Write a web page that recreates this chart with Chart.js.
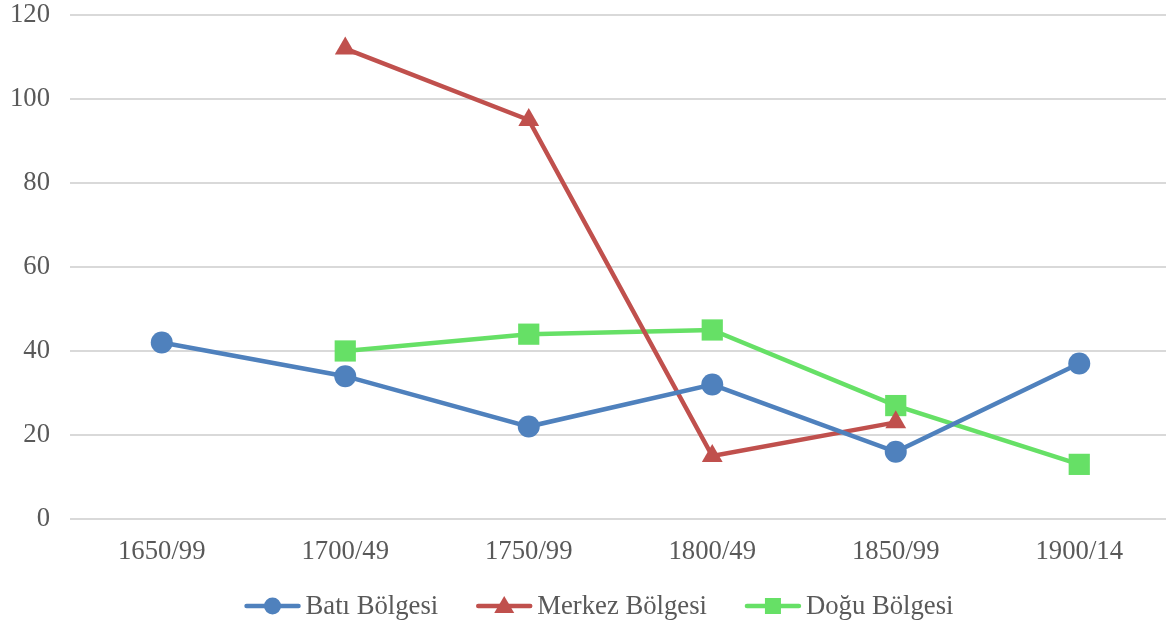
<!DOCTYPE html>
<html lang="tr">
<head>
<meta charset="UTF-8" />
<title>Bölgeler</title>
<style>
  html, body { margin: 0; padding: 0; background: #fff; overflow: hidden; }
  #wrap { width: 1171px; height: 624px; }
</style>
</head>
<body>
<div id="wrap"><canvas id="myChart"></canvas></div>
<script src="https://cdn.jsdelivr.net/npm/chart.js"></script>
<script>
var labels = ["1650/99", "1700/49", "1750/99", "1800/49", "1850/99", "1900/14"];
var bati = [42, 34, 22, 32, 16, 37];
var merkez = [null, 112, 95, 15, 23, null];
var dogu = [null, 40, 44, 45, 27, 13];
var yTicks = [0, 20, 40, 60, 80, 100, 120];

var FONT = "'Liberation Serif', 'Times New Roman', serif";
var FSIZE = 26.7;
var GREY = "#595959";

function ds(label, data, color, style, r) {
  return {
    label: label,
    data: data,
    borderColor: color,
    backgroundColor: color,
    borderWidth: 4.5,
    pointStyle: style,
    pointRadius: r,
    pointHoverRadius: r,
    pointBorderWidth: 0,
    fill: false,
    tension: 0,
    spanGaps: false
  };
}

// legend drawn by hand: line with marker, then the label
var lineLegend = {
  id: "lineLegend",
  afterDraw: function (chart) {
    var ctx = chart.ctx;
    var iconW = 56, gap = 5, itemGap = 38, y = 606;
    ctx.save();
    ctx.font = FSIZE + "px " + FONT;
    var items = chart.data.datasets.map(function (d) {
      return { d: d, w: ctx.measureText(d.label).width };
    });
    var total = items.reduce(function (s, it) { return s + iconW + gap + it.w; }, 0) + itemGap * (items.length - 1);
    var x = (1166 - total) / 2 + 16;
    items.forEach(function (it) {
      var d = it.d;
      ctx.strokeStyle = d.borderColor;
      ctx.fillStyle = d.borderColor;
      ctx.lineWidth = 4.5;
      ctx.lineCap = "round";
      ctx.beginPath(); ctx.moveTo(x + 2, y); ctx.lineTo(x + iconW - 2, y); ctx.stroke();
      var cx = x + iconW / 2;
      ctx.beginPath();
      if (d.pointStyle === "circle") {
        ctx.arc(cx, y, 8.5, 0, Math.PI * 2);
      } else if (d.pointStyle === "triangle") {
        ctx.moveTo(cx, y - 10); ctx.lineTo(cx + 10, y + 7); ctx.lineTo(cx - 10, y + 7); ctx.closePath();
      } else {
        ctx.rect(cx - 8, y - 8, 16, 16);
      }
      ctx.fill();
      ctx.fillStyle = GREY;
      ctx.textBaseline = "middle";
      ctx.textAlign = "left";
      ctx.fillText(d.label, x + iconW + gap, y + 1);
      x += iconW + gap + it.w + itemGap;
    });
    ctx.restore();
  }
};

var config = {
  type: "line",
  data: {
    labels: labels,
    datasets: [
      ds("Batı Bölgesi", bati, "#4F81BD", "circle", 11),
      ds("Merkez Bölgesi", merkez, "#C0504D", "triangle", 12),
      ds("Doğu Bölgesi", dogu, "#66E066", "rect", 15)
    ]
  },
  options: {
    responsive: true,
    maintainAspectRatio: false,
    animation: false,
    layout: { autoPadding: false, padding: { top: 15, right: 0, bottom: 47, left: 0 } },
    plugins: {
      tooltip: { enabled: false },
      legend: { display: false }
    },
    scales: {
      x: {
        offset: true,
        grid: { display: false },
        border: { display: false },
        ticks: { color: GREY, font: { family: FONT, size: FSIZE }, padding: 9 },
        afterFit: function (axis) { axis.paddingLeft = 0; axis.paddingRight = 0; }
      },
      y: {
        min: 0,
        max: 120,
        afterBuildTicks: function (axis) {
          axis.ticks = yTicks.map(function (v) { return { value: v }; });
        },
        afterFit: function (axis) { axis.paddingTop = 0; axis.paddingBottom = 0; axis.width = 70; },
        grid: { color: "#D9D9D9", lineWidth: 2, drawTicks: false },
        border: { display: false },
        ticks: { color: GREY, font: { family: FONT, size: FSIZE }, padding: 20 }
      }
    }
  },
  plugins: [lineLegend]
};

var myChart = new Chart(document.getElementById("myChart"), config);
</script>
</body>
</html>
